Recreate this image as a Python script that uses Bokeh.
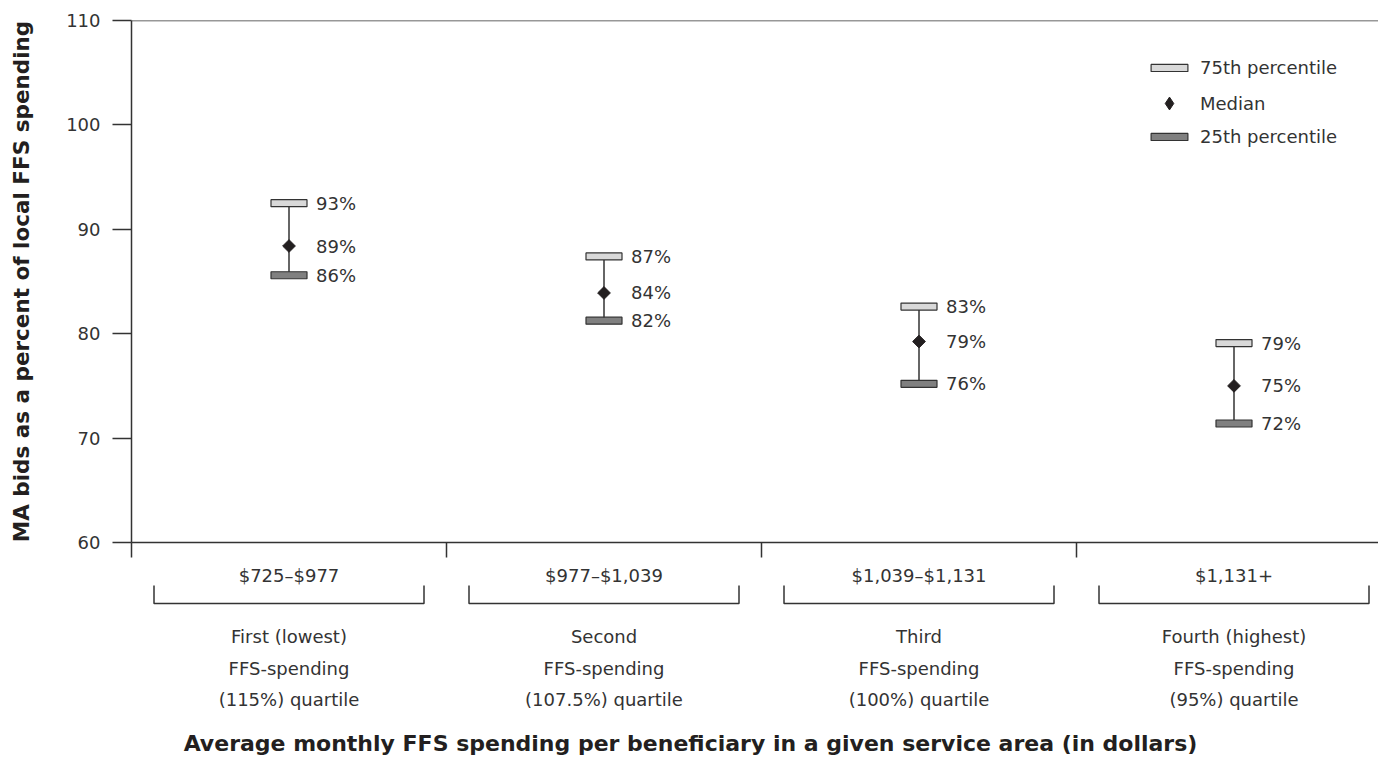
from bokeh.plotting import figure
from bokeh.layouts import column
from bokeh.models import (ColumnDataSource, LabelSet, Span, FixedTicker, Legend,
                          LegendItem, Range1d)
from bokeh.core.properties import value
from bokeh.embed import file_html
from bokeh.resources import INLINE

# ---------------- data ----------------
price_ranges = ["$725–$977", "$977–$1,039", "$1,039–$1,131", "$1,131+"]
quartile_line1 = ["First (lowest)", "Second", "Third", "Fourth (highest)"]
quartile_line2 = ["FFS-spending", "FFS-spending", "FFS-spending", "FFS-spending"]
quartile_line3 = ["(115%) quartile", "(107.5%) quartile", "(100%) quartile", "(95%) quartile"]

pct75 = [92.5, 87.4, 82.6, 79.1]
median = [88.4, 83.9, 79.25, 75.0]
pct25 = [85.6, 81.25, 75.2, 71.4]

pct75_labels = ["93%", "87%", "83%", "79%"]
median_labels = ["89%", "84%", "79%", "75%"]
pct25_labels = ["86%", "82%", "76%", "72%"]

y_ticks = [60, 70, 80, 90, 100, 110]

# ---------------- layout ----------------
W = 1378
LEFT, TOP = 131, 20
FH = 522
BOTTOM1 = 22
H1 = TOP + FH + BOTTOM1
H2 = 757 - H1
CAT_PX = 315
FW = W - LEFT
Y0, Y1 = 60, 110
FONT = "DejaVu Sans"
TXT = "#333333"
DARK = "#231f20"
FS = "18px"

xc = [i + 0.5 for i in range(len(price_ranges))]
x_range = Range1d(0, FW / CAT_PX)

p = figure(width=W, height=H1, x_range=x_range, y_range=Range1d(Y0, Y1),
           output_backend="svg", toolbar_location=None,
           min_border_left=LEFT, min_border_top=TOP, min_border_right=0,
           min_border_bottom=BOTTOM1)
p.outline_line_color = None
p.xgrid.visible = False
p.ygrid.visible = False

# x axis: boundary ticks only (category texts are drawn in the panel below)
p.xaxis.ticker = FixedTicker(ticks=[], minor_ticks=list(range(len(price_ranges))))
p.xaxis.minor_tick_out = 15
p.xaxis.minor_tick_in = 0
p.xaxis.minor_tick_line_color = TXT
p.xaxis.minor_tick_line_width = 1.5
p.xaxis.axis_line_color = TXT
p.xaxis.axis_line_width = 1.5

# y axis
p.yaxis.ticker = FixedTicker(ticks=y_ticks)
p.yaxis.major_tick_out = 19
p.yaxis.major_tick_in = 0
p.yaxis.minor_tick_line_color = None
p.yaxis.axis_line_color = TXT
p.yaxis.axis_line_width = 1.5
p.yaxis.major_tick_line_color = TXT
p.yaxis.major_tick_line_width = 1.5
p.yaxis.major_label_standoff = 12
p.yaxis.major_label_text_font = FONT
p.yaxis.major_label_text_font_size = FS
p.yaxis.major_label_text_color = TXT
p.yaxis.axis_label = "MA bids as a percent of local FFS spending"
p.yaxis.axis_label_text_font = FONT
p.yaxis.axis_label_text_font_style = "bold"
p.yaxis.axis_label_text_font_size = "21.5px"
p.yaxis.axis_label_text_color = DARK
p.yaxis.axis_label_standoff = 29

p.add_layout(Span(location=Y1, dimension="width", line_color=TXT, line_width=1.5))

src = ColumnDataSource(dict(x=xc, p75=pct75, med=median, p25=pct25,
                            l75=pct75_labels, lmed=median_labels, l25=pct25_labels))

p.segment(x0="x", y0="p75", x1="x", y1="p25", source=src, line_color=TXT, line_width=1.5)
r75 = p.rect(x="x", y="p75", width=36, height=7, width_units="screen", height_units="screen",
             fill_color="#d9d9d9", line_color=TXT, line_width=1.2, source=src)
r25 = p.rect(x="x", y="p25", width=36, height=7, width_units="screen", height_units="screen",
             fill_color="#808080", line_color=TXT, line_width=1.2, source=src)
rmed = p.scatter(x="x", y="med", marker="square", angle=0.785398, size=9,
                 fill_color=DARK, line_color=DARK, source=src)
# legend swatch for the median (legend markers are drawn unrotated)
rmed_leg = p.scatter(x="x", y="med", marker="diamond", size=0, fill_color=DARK,
                     line_color=DARK, source=src)

for col, ycol in [("l75", "p75"), ("lmed", "med"), ("l25", "p25")]:
    p.add_layout(LabelSet(x="x", y=ycol, text=col, source=src, x_offset=27, y_offset=0,
                          text_align="left", text_baseline="middle",
                          text_font=value(FONT), text_font_size=FS, text_color=TXT))

def make_legend(label, rend, gh, cy):
    h = max(gh, 20)
    leg = Legend(items=[LegendItem(label=label, renderers=[rend])],
                 location=(1015, (FH - cy) - h / 2), orientation="vertical",
                 glyph_width=46, glyph_height=gh, label_height=gh, label_standoff=8,
                 padding=0, margin=0, spacing=0, border_line_color=None,
                 background_fill_alpha=0, label_text_font=FONT,
                 label_text_font_size=FS, label_text_color=TXT)
    p.add_layout(leg)

make_legend("75th percentile", r75, 9, 48)
make_legend("Median", rmed_leg, 32, 83)
make_legend("25th percentile", r25, 9, 117)

# ---------------- panel under the axis ----------------
p2 = figure(width=W, height=H2, x_range=x_range, y_range=Range1d(H2, 0),
            output_backend="svg", toolbar_location=None,
            min_border_left=LEFT, min_border_top=0, min_border_right=0,
            min_border_bottom=0)
p2.axis.visible = False
p2.grid.visible = False
p2.outline_line_color = None

def row_y(page_y):
    return page_y - H1

src2 = ColumnDataSource(dict(x=xc, r=price_ranges, a=quartile_line1,
                             b=quartile_line2, c=quartile_line3))
for col, py in [("r", 575), ("a", 636), ("b", 668), ("c", 699)]:
    p2.text(x="x", y=row_y(py), text=col, source=src2, text_align="center",
            text_baseline="middle", text_font=value(FONT), text_font_size=FS,
            text_color=TXT)

half = 135 / CAT_PX
btop, bbot = row_y(585), row_y(603)
p2.multi_line(xs=[[c - half, c - half, c + half, c + half] for c in xc],
              ys=[[btop, bbot, bbot, btop] for _ in xc],
              line_color=TXT, line_width=1.5)

p2.text(x=[559 / CAT_PX], y=[row_y(743)],
        text=["Average monthly FFS spending per beneficiary in a given service area (in dollars)"],
        text_align="center", text_baseline="middle", text_font=value(FONT),
        text_font_style="bold", text_font_size="22px", text_color=DARK)

layout = column(p, p2, spacing=0)
open("out.html", "w").write(file_html(layout, INLINE))
